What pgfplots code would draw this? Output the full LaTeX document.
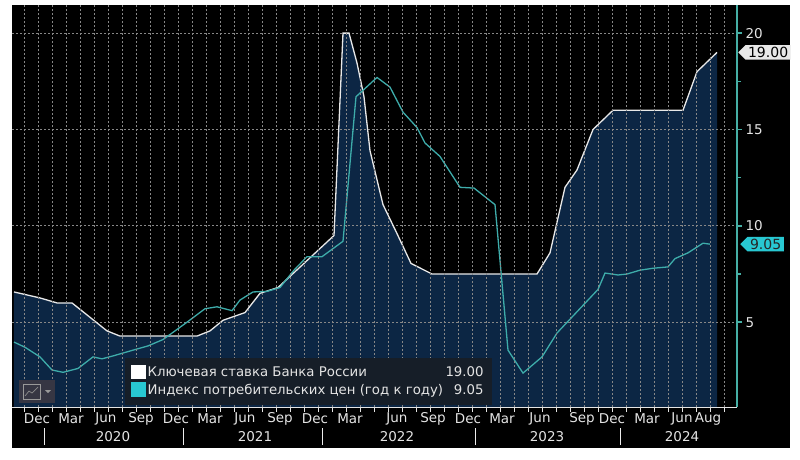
\documentclass[border=0pt]{standalone}
\usepackage{fontspec}
\setmainfont{DejaVu Sans}
\usepackage{pgfplots}
\pgfplotsset{compat=1.18}
\usetikzlibrary{shapes.symbols}
\definecolor{bgnavy}{RGB}{12,38,68}
\definecolor{cpi}{RGB}{62,172,170}
\definecolor{cpibright}{RGB}{40,200,210}
\definecolor{gridgray}{RGB}{135,135,135}
\definecolor{legbg}{RGB}{22,30,40}
\definecolor{axteal}{RGB}{70,175,165}
\definecolor{txt}{RGB}{228,228,228}
\definecolor{keyw}{RGB}{232,232,232}

\pgfplotstableread{
x y
14 6.57
40 6.26
57 6.0
72 6.0
107 4.55
120 4.28
197 4.28
210 4.55
223 5.1
245 5.5
260 6.5
278 6.8
334 9.5
343 20.0
349 20.0
357 18.45
364 16.7
370 13.9
383 11.1
397 9.6
411 8.05
432 7.5
537 7.5
550 8.6
565 12.0
577 12.9
593 15.0
613 16.0
683 16.0
697 18.0
717 19.0
}\keyrate

\pgfplotstableread{
x y
14 0.6
14 6.57
40 6.26
57 6.0
72 6.0
107 4.55
120 4.28
197 4.28
210 4.55
223 5.1
245 5.5
260 6.5
278 6.8
334 9.5
343 20.0
349 20.0
357 18.45
364 16.7
370 13.9
383 11.1
397 9.6
411 8.05
432 7.5
537 7.5
550 8.6
565 12.0
577 12.9
593 15.0
613 16.0
683 16.0
697 18.0
717 19.0
717 0.6
}\keyfill

\pgfplotstableread{
x y
14 3.97
25 3.7
40 3.2
52 2.52
63 2.4
78 2.6
93 3.2
102 3.1
113 3.25
133 3.55
148 3.77
163 4.1
187 5.0
205 5.7
217 5.8
232 5.6
240 6.15
253 6.57
267 6.6
280 6.8
294 7.7
307 8.4
322 8.4
343 9.2
356 16.7
377 17.7
390 17.2
403 15.9
417 15.1
425 14.3
440 13.6
460 12.0
474 11.96
495 11.1
508 3.55
523 2.36
542 3.2
557 4.44
598 6.7
605 7.55
618 7.45
627 7.5
640 7.7
653 7.8
668 7.87
675 8.3
688 8.6
703 9.1
710 9.05
}\cpidata

\begin{document}
\begin{tikzpicture}[x=1pt,y=1pt]
\fill[white] (0,0) rectangle (800,459);
\fill[black] (12,11) rectangle (790,454);
\begin{axis}[
  at={(12pt,52pt)}, anchor=south west,
  width=725pt, height=402pt, scale only axis,
  xmin=12, xmax=737, ymin=0.6, ymax=21.46,
  axis on top,
  axis x line*=bottom, axis y line*=right,
  x axis line style={draw=txt, line width=1pt},
  y axis line style={draw=axteal, line width=1.2pt},
  xtick={24.5,38.5,52.5,66.5,80.5,94.5,108.5,122.5,136.5,150.5,164.5,178.5,192.5,206.5,220.5,234.5,248.5,262.5,276.5,290.5,304.5,318.5,332.5,346.5,360.5,374.5,388.5,402.5,416.5,430.5,444.5,458.5,472.5,486.5,500.5,514.5,528.5,542.5,556.5,570.5,584.5,598.5,612.5,626.5,640.5,654.5,668.5,682.5,696.5,710.5,724.5},
  xticklabel=\empty,
  xtick style={draw=txt, line width=1pt},
  xmajorgrids=true,
  major tick length=5pt, minor tick length=4pt, tick align=outside,
  ytick={5,10,15,20}, yticklabels={5,10,15,20},
  minor ytick={7.5,12.5,17.5},
  ytick style={draw=axteal, line width=1.5pt},
  major grid style={draw=gridgray, dash pattern=on 2pt off 2pt, line width=1pt},
  ticklabel style={font=\fontsize{13.5}{15}\selectfont, text=txt},
  legend style={at={(0.156,0.005)}, anchor=south west, fill=legbg, draw=none,
    text=txt, font=\fontsize{13.3}{16}\selectfont, inner xsep=6pt, inner ysep=7pt,
    row sep=2pt},
  legend cell align=left,
]
\addplot[fill=bgnavy, draw=none, forget plot] table[x=x,y=y] {\keyfill};
% horizontal dotted grid over the area
\pgfplotsinvokeforeach{5,10,15,20}{
  \draw[gridgray, dash pattern=on 2pt off 2pt, line width=1pt]
    (axis cs:12,#1) -- (axis cs:737,#1);}
\addplot[draw=keyw, line width=1.3pt,
  legend image code/.code={\fill[white] (0pt,-6pt) rectangle (13pt,7pt);}]
  table[x=x,y=y] {\keyrate};
\addlegendentry{\makebox[336pt][l]{Ключевая ставка Банка России\hfill 19.00}}
\addplot[draw=cpi, line width=1.3pt,
  legend image code/.code={\fill[cpibright] (0pt,-6pt) rectangle (13pt,7pt);}]
  table[x=x,y=y] {\cpidata};
\addlegendentry{\makebox[336pt][l]{Индекс потребительских цен (год к году)\hfill 9.05}}
\coordinate (tagA) at (axis cs:737,19);
\coordinate (tagB) at (axis cs:737,9.05);
\end{axis}
% value tags on the right axis
\node[signal, signal to=west, fill=keyw, text=black, anchor=west, inner xsep=2.5pt, inner ysep=2pt,
  font=\fontsize{14}{16}\selectfont, xshift=1pt] at (tagA) {19.00};
\node[signal, signal to=west, fill=cpibright, text=black!85, anchor=west, inner xsep=2.5pt, inner ysep=2pt,
  font=\fontsize{14}{16}\selectfont, xshift=3pt] at (tagB) {9.05};
% month labels (x in the axis' own units, which equal pt here)
\foreach \xx/\mm in {37/Dec,71/Mar,106/Jun,141/Sep,176/Dec,210/Mar,245/Jun,280/Sep,315/Dec,350/Mar,397/Jun,433/Sep,468/Dec,502/Mar,540/Jun,582/Sep,612/Dec,647/Mar,682/Jun,708/Aug}
  {\node[text=txt, font=\fontsize{13.5}{15}\selectfont] at (\xx,40) {\mm};}
% year labels and separators
\foreach \xx in {44,183,322,475,620} {\draw[txt!70, line width=0.8pt] (\xx,14) -- (\xx,31);}
\foreach \xx/\yy in {113/2020,255/2021,397/2022,547/2023,682/2024}
  {\node[text=txt, font=\fontsize{13.5}{15}\selectfont] at (\xx,22) {\yy};}
% chart-type button
\fill[black!70!blue!30!gray!60!black] (19,56) rectangle (55,79);
\draw[gray!80, line width=0.6pt] (23,60) rectangle (40,75);
\draw[gray!90, line width=0.7pt] (25,63) -- (29,68) -- (32,66) -- (38,72);
\fill[gray!80] (45,69) -- (51,69) -- (48,66) -- cycle;
\useasboundingbox (0,0) rectangle (800,459);
\end{tikzpicture}
\end{document}
